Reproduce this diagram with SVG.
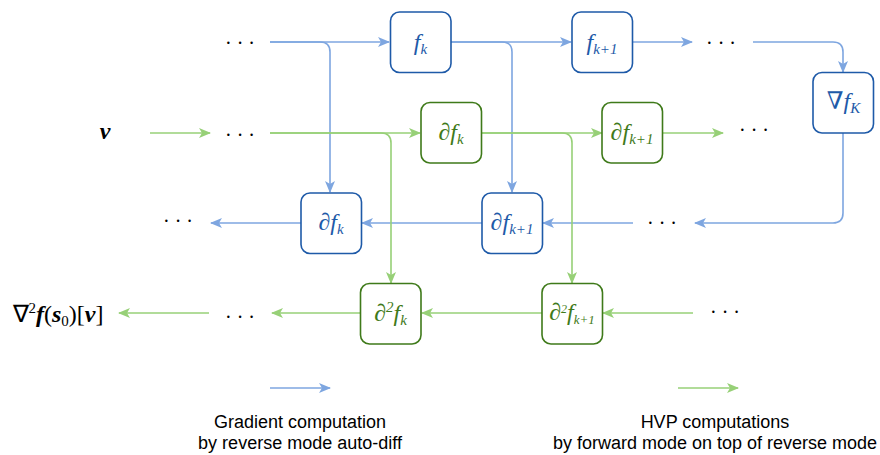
<svg xmlns="http://www.w3.org/2000/svg" width="880" height="455" viewBox="0 0 880 455">
<defs>
<marker id="ab" markerWidth="12" markerHeight="10" refX="11" refY="5" orient="auto" markerUnits="userSpaceOnUse"><path d="M0,0 L12,5 L0,10 L3,5 Z" fill="#7EA6E0"/></marker>
<marker id="ag" markerWidth="12" markerHeight="10" refX="11" refY="5" orient="auto" markerUnits="userSpaceOnUse"><path d="M0,0 L12,5 L0,10 L3,5 Z" fill="#97D077"/></marker>
<style>
.nb{fill:#fff;stroke:#1E5AA8;stroke-width:1.6}
.ng{fill:#fff;stroke:#3F7A1A;stroke-width:1.6}
.eb{fill:none;stroke:#7EA6E0;stroke-width:1.6}
.eg{fill:none;stroke:#97D077;stroke-width:1.6}
.m{font-family:"Liberation Serif","DejaVu Serif",serif;font-style:italic;font-size:24px;text-anchor:middle}
.tb{fill:#1E5AA8}
.tg{fill:#3F7A1A}
.dots{font-family:"Liberation Serif",serif;font-size:20px;fill:#000;text-anchor:middle}
.lg{font-family:"Liberation Sans",Arial,sans-serif;font-size:18px;fill:#000;text-anchor:middle}
.s{font-size:15px}
</style>
</defs>
<g id="connectors">
<path class="eb" d="M270,42 L389,42" marker-end="url(#ab)"/>
<path class="eb" d="M270,42 L320,42 Q330,42 330,52 L330,192" marker-end="url(#ab)"/>
<path class="eb" d="M451,42 L571,42" marker-end="url(#ab)"/>
<path class="eb" d="M451,42 L502,42 Q512,42 512,52 L512,192" marker-end="url(#ab)"/>
<path class="eb" d="M632,42 L692,42" marker-end="url(#ab)"/>
<path class="eb" d="M753,42 L833,42 Q843,42 843,52 L843,72" marker-end="url(#ab)"/>
<path class="eb" d="M843,133 L843,213 Q843,223 833,223 L695,223" marker-end="url(#ab)"/>
<path class="eb" d="M633,223 L543,223" marker-end="url(#ab)"/>
<path class="eb" d="M482,223 L362,223" marker-end="url(#ab)"/>
<path class="eb" d="M301,223 L211,223" marker-end="url(#ab)"/>
<path class="eg" d="M150,133 L210,133" marker-end="url(#ag)"/>
<path class="eg" d="M270,133 L420,133" marker-end="url(#ag)"/>
<path class="eg" d="M270,133 L381,133 Q391,133 391,143 L391,283" marker-end="url(#ag)"/>
<path class="eg" d="M482,133 L602,133" marker-end="url(#ag)"/>
<path class="eg" d="M482,133 L562,133 Q572,133 572,143 L572,283" marker-end="url(#ag)"/>
<path class="eg" d="M663,133 L723,133" marker-end="url(#ag)"/>
<path class="eg" d="M693,313 L603,313" marker-end="url(#ag)"/>
<path class="eg" d="M542,313 L422,313" marker-end="url(#ag)"/>
<path class="eg" d="M360,313 L272,313" marker-end="url(#ag)"/>
<path class="eg" d="M209,313 L119,313" marker-end="url(#ag)"/>
<path class="eb" d="M270,388 L330,388" marker-end="url(#ab)"/>
<path class="eg" d="M678,388 L738,388" marker-end="url(#ag)"/>
</g>
<g id="n_fk"><rect class="nb" x="390.5" y="12" width="60.5" height="60.5" rx="9"/><text class="m tb" x="420.5" y="50">f<tspan class="s" dy="4">k</tspan></text></g>
<g id="n_fk1"><rect class="nb" x="572" y="12" width="60.5" height="60.5" rx="9"/><text class="m tb" x="602" y="50">f<tspan class="s" dy="4">k+1</tspan></text></g>
<g id="n_gradK"><rect class="nb" x="813" y="72.5" width="60.5" height="60.5" rx="9"/><text class="m tb" x="843.5" y="109"><tspan font-style="normal">∇</tspan>f<tspan class="s" dy="4">K</tspan></text></g>
<g id="n_dfk_b"><rect class="nb" x="301" y="193" width="60.5" height="60.5" rx="9"/><text class="m tb" x="331" y="230">∂f<tspan class="s" dy="4">k</tspan></text></g>
<g id="n_dfk1_b"><rect class="nb" x="482" y="193" width="60.5" height="60.5" rx="9"/><text class="m tb" x="512" y="230">∂f<tspan class="s" dy="4">k+1</tspan></text></g>
<g id="n_dfk_g"><rect class="ng" x="421" y="102.5" width="60.5" height="60.5" rx="9"/><text class="m tg" x="451" y="140">∂f<tspan class="s" dy="4">k</tspan></text></g>
<g id="n_dfk1_g"><rect class="ng" x="602" y="102.5" width="60.5" height="60.5" rx="9"/><text class="m tg" x="632" y="140">∂f<tspan class="s" dy="4">k+1</tspan></text></g>
<g id="n_d2fk"><rect class="ng" x="360.5" y="283.5" width="60.5" height="60.5" rx="9"/><text class="m tg" x="390.5" y="321">∂<tspan class="s" dy="-9">2</tspan><tspan dy="9">f</tspan><tspan class="s" dy="4">k</tspan></text></g>
<g id="n_d2fk1"><rect class="ng" x="542" y="283.5" width="60.5" height="60.5" rx="9"/><text class="m tg" x="572" y="320" font-size="19px">∂<tspan font-size="12px" dy="-7">2</tspan><tspan dy="7">f</tspan><tspan font-size="13px" dy="4">k+1</tspan></text></g>
<g id="labels">
<text class="dots" x="240" y="50">· · ·</text>
<text class="dots" x="721" y="50">· · ·</text>
<text class="dots" x="240" y="142">· · ·</text>
<text class="dots" x="754" y="137">· · ·</text>
<text class="dots" x="178" y="228">· · ·</text>
<text class="dots" x="662" y="230">· · ·</text>
<text class="dots" x="240" y="324">· · ·</text>
<text class="dots" x="725" y="319">· · ·</text>
<text x="105" y="139" font-family="Liberation Serif,serif" font-style="italic" font-weight="bold" font-size="24px" text-anchor="middle">v</text>
<text x="58" y="322" font-family="Liberation Serif,serif" font-size="24px" text-anchor="middle">∇<tspan font-size="15px" dy="-9">2</tspan><tspan dy="9" font-style="italic" font-weight="bold">f</tspan>(<tspan font-style="italic" font-weight="bold">s</tspan><tspan font-size="15px" dy="4">0</tspan><tspan dy="-4">)[</tspan><tspan font-style="italic" font-weight="bold">v</tspan>]</text>
<text class="lg" x="300" y="428">Gradient computation</text>
<text class="lg" x="300" y="449">by reverse mode auto-diff</text>
<text class="lg" x="715" y="428">HVP computations</text>
<text class="lg" x="715" y="449">by forward mode on top of reverse mode</text>
</g>
</svg>
